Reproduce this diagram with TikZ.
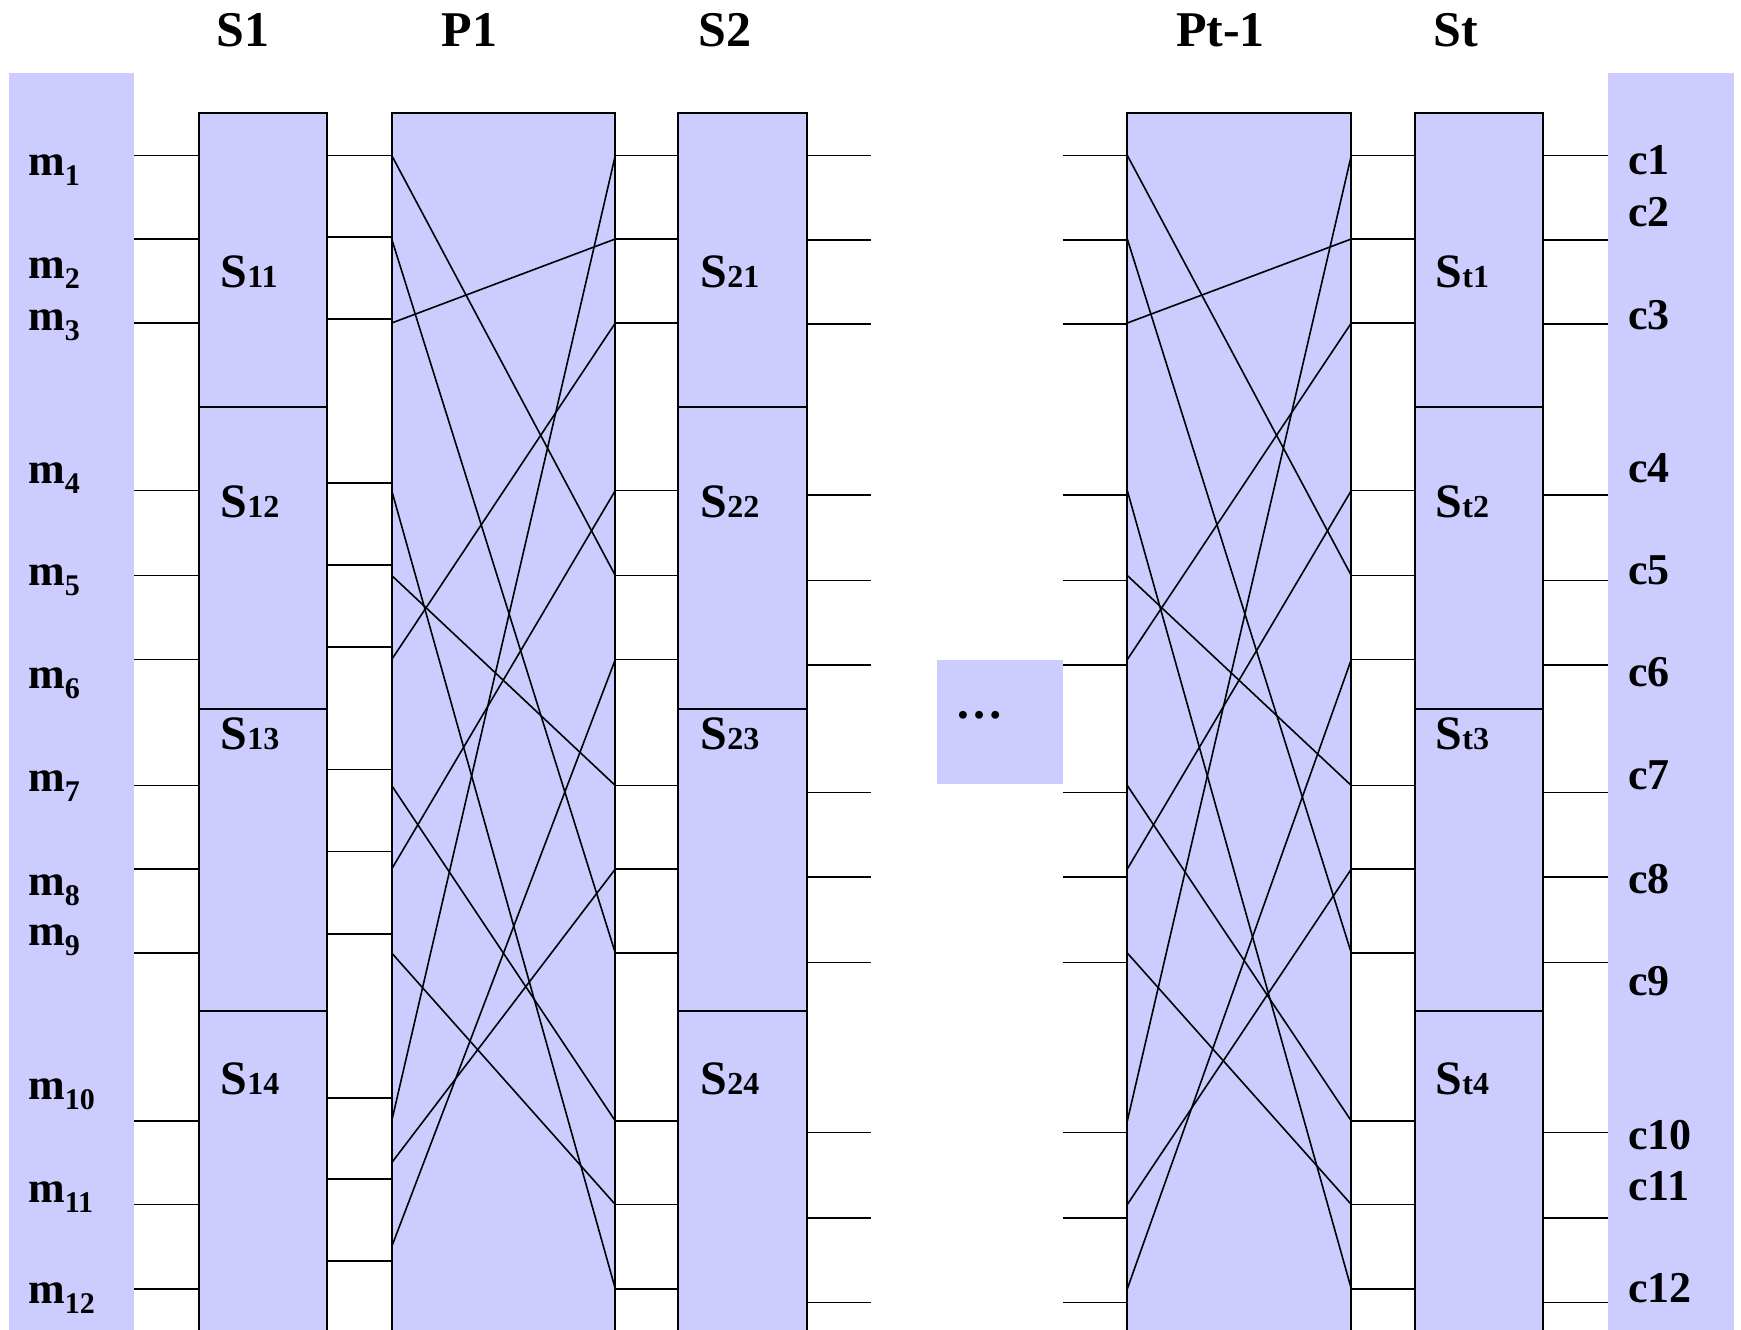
\documentclass[tikz,border=0pt]{standalone}
\usepackage{fontspec}
\setmainfont{Liberation Serif}
\definecolor{lav}{RGB}{204,204,255}
\newcommand\lowidx[1]{\raisebox{-10pt}{\fontsize{30}{30}\selectfont #1}}
\newcommand\smallidx[1]{{\fontsize{32}{32}\selectfont #1}}
\begin{document}
\begin{tikzpicture}[x=1pt,y=-1pt,
  wire/.style={line width=1.8pt},
  permwire/.style={line width=1.6pt},
  stagebox/.style={fill=lav,draw=black,line width=1.8pt},
  title/.style={font=\bfseries\fontsize{50}{60}\selectfont,anchor=base,inner sep=0pt},
  plabel/.style={font=\bfseries\fontsize{44}{50}\selectfont,anchor=base west,inner sep=0pt},
  slabel/.style={font=\bfseries\fontsize{48}{56}\selectfont,anchor=base west,inner sep=0pt}]
\useasboundingbox (0,0) rectangle (1741,1330);
\fill[white] (0,0) rectangle (1741,1330);
\clip (0,0) rectangle (1741,1330);

% plaintext and ciphertext bands
\fill[lav] (8.5,73) rectangle (134,1340);
\fill[lav] (1607.8,73) rectangle (1734.3,1340);
% elided middle rounds
\fill[lav] (936.5,659.5) rectangle (1062.5,784.4);

% substitution stages, four boxes each
\foreach \xa/\xb in {199.3/327, 678.3/807, 1414.7/1543.2}{
  \draw[stagebox] (\xa,113.3) rectangle (\xb,406.6);
  \draw[stagebox] (\xa,406.6) rectangle (\xb,709);
  \draw[stagebox] (\xa,709) rectangle (\xb,1011.2);
  \draw[stagebox] (\xa,1011.2) rectangle (\xb,1345);
}
% permutation stages
\draw[stagebox] (391.7,113.3) rectangle (615.3,1345);
\draw[stagebox] (1127.3,113.3) rectangle (1351.3,1345);

% ports: A = stage inputs, B = S1 outputs, C = S2/St outputs, P = P1 internal starts
\foreach \ya/\yb/\yc/\yp [count=\i] in {
  155.4/155.4/155.4/155.4,
  239/237.3/239.8/239,
  323/319.2/324.3/323,
  490.5/482.9/495.2/490.5,
  575.5/565.1/580.5/575.5,
  659.5/647.1/665.2/659.5,
  785.5/769.4/792.5/785.5,
  869/851.4/877.3/869,
  953/933.6/962.4/953,
  1121/1097.7/1132.5/1121,
  1204.5/1179.2/1218/1162.7,
  1288.8/1261/1302.5/1246.7}{
  \coordinate (in\i) at (134,\ya);
  \coordinate (sa\i) at (199.3,\ya);
  \coordinate (sb\i) at (327,\yb);
  \coordinate (pa\i) at (391.7,\yb);
  \coordinate (pi\i) at (391.7,\yp);
  \coordinate (po\i) at (615.3,\ya);
  \coordinate (ta\i) at (678.3,\ya);
  \coordinate (tb\i) at (807,\yc);
  \coordinate (te\i) at (871,\yc);
  \coordinate (qs\i) at (1062.6,\yc);
  \coordinate (qa\i) at (1127.3,\yc);
  \coordinate (qi\i) at (1127.3,\ya);
  \coordinate (qo\i) at (1351.3,\ya);
  \coordinate (ua\i) at (1414.7,\ya);
  \coordinate (ub\i) at (1543.2,\yc);
  \coordinate (out\i) at (1607.8,\yc);
}

% straight wires between stages
\foreach \i in {1,...,12}{
  \draw[wire] (in\i) -- (sa\i);
  \draw[wire] (sb\i) -- (pa\i);
  \draw[wire] (po\i) -- (ta\i);
  \draw[wire] (tb\i) -- (te\i);
  \draw[wire] (qs\i) -- (qa\i);
  \draw[wire] (qo\i) -- (ua\i);
  \draw[wire] (ub\i) -- (out\i);
}
% permutation wiring
\foreach \a/\b in {1/5,2/9,3/2,4/12,5/7,6/3,7/10,8/4,9/11,10/1,11/8,12/6}{
  \draw[permwire] (pi\a) -- (po\b);
  \draw[permwire] (qi\a) -- (qo\b);
}

% stage titles
\node[title] (tS1) at (243,47) {S1};
\node[title] (tP1) at (469.5,47) {P1};
\node[title] (tS2) at (725,47) {S2};
\node[title] (tPt) at (1220.5,47) {Pt-1};
\node[title] (tSt) at (1456,47) {St};

% plaintext symbols
\foreach \k/\yy in {1/175,2/278,3/330,4/483,5/585,6/688,7/791,8/895,9/945,10/1099,11/1202,12/1303}
  \node[plabel] (m\k) at (28,\yy) {m\lowidx{\k}};

% ciphertext symbols
\foreach \k/\yy in {1/174,2/226,3/329,4/482,5/584.5,6/686.5,7/789.5,8/893,9/995,10/1149,11/1200,12/1302.5}
  \node[plabel] (c\k) at (1628,\yy) {c\k};

% S-box names
\foreach \k/\yy in {1/287.5,2/517.5,3/749,4/1094}{
  \node[slabel] (s1\k) at (220.5,\yy) {S\smallidx{1\k}};
  \node[slabel] (s2\k) at (700.5,\yy) {S\smallidx{2\k}};
  \node[slabel] (st\k) at (1435.5,\yy) {S\smallidx{t\k}};
}

\node[plabel,font=\bfseries\fontsize{48}{50}\selectfont] (dots) at (955,718.5) {…};
\end{tikzpicture}
\end{document}
